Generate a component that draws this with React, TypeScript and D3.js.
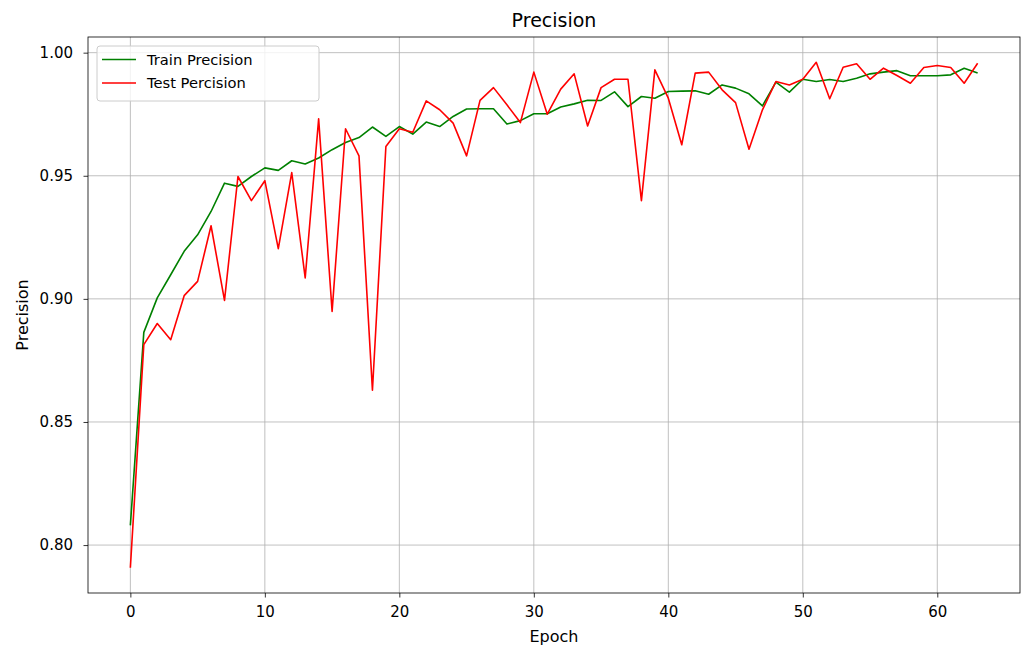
import React, { useEffect, useRef } from "react";
import * as d3 from "d3";

const trainPrecision = [
  0.808, 0.8864, 0.9004, 0.9098, 0.9193, 0.926, 0.9355, 0.947, 0.9457, 0.9497,
  0.9532, 0.9522, 0.9561, 0.9548, 0.9572, 0.9606, 0.9635, 0.9655, 0.9698, 0.966,
  0.970, 0.9669, 0.9718, 0.970, 0.9741, 0.9771, 0.9772, 0.9772, 0.971, 0.9724,
  0.9752, 0.9752, 0.9779, 0.9792, 0.9807, 0.9806, 0.9841, 0.9781, 0.9822, 0.9815,
  0.9842, 0.9844, 0.9845, 0.9831, 0.9869, 0.9856, 0.9833, 0.9784, 0.988, 0.984,
  0.9892, 0.9883, 0.9891, 0.9883, 0.9896, 0.9914, 0.9921, 0.9927, 0.9906, 0.9906,
  0.9906, 0.991, 0.9937, 0.9917,
];

const testPrecision = [
  0.7908, 0.8814, 0.890, 0.8834, 0.9013, 0.9071, 0.9297, 0.8994, 0.9497, 0.9399,
  0.948, 0.9204, 0.9513, 0.9085, 0.9731, 0.8949, 0.9691, 0.9581, 0.8629, 0.9619,
  0.9691, 0.9677, 0.9804, 0.9768, 0.9714, 0.9581, 0.9806, 0.9858, 0.9788, 0.9716,
  0.9921, 0.975, 0.9852, 0.9914, 0.9702, 0.9858, 0.9892, 0.9892, 0.9399, 0.993,
  0.9815, 0.9626, 0.9917, 0.9921, 0.9849, 0.9797, 0.9608, 0.9768, 0.9883, 0.9869,
  0.9892, 0.9961, 0.9813, 0.9941, 0.9955, 0.9892, 0.9937, 0.9907, 0.9876, 0.994,
  0.9948, 0.994, 0.9876, 0.9957,
];

const xTicks = [0, 10, 20, 30, 40, 50, 60];
const yTicks = [0.8, 0.85, 0.9, 0.95, 1.0];

const seriesList = [
  { name: "Train Precision", values: trainPrecision, color: "#008000" },
  { name: "Test Percision", values: testPrecision, color: "#ff0000" },
];

const W = 1026;
const H = 653;
const margin = { top: 37, right: 6, bottom: 60, left: 88 };
const FONT = "DejaVu Sans, sans-serif";

export default function App() {
  const ref = useRef<SVGSVGElement>(null);

  useEffect(() => {
    const svg = d3.select(ref.current);
    svg.selectAll("*").remove();

    const iW = W - margin.left - margin.right;
    const iH = H - margin.top - margin.bottom;

    const n = trainPrecision.length - 1;
    const all = trainPrecision.concat(testPrecision);
    const yMin = d3.min(all)!;
    const yMax = d3.max(all)!;
    const yPad = (yMax - yMin) * 0.05;

    const x = d3.scaleLinear().domain([-n * 0.05, n * 1.05]).range([0, iW]);
    const y = d3.scaleLinear().domain([yMin - yPad, yMax + yPad]).range([iH, 0]);

    const g = svg.append("g").attr("transform", `translate(${margin.left},${margin.top})`);

    // grid
    g.selectAll("line.xgrid")
      .data(xTicks)
      .join("line")
      .attr("class", "xgrid")
      .attr("x1", d => x(d)).attr("x2", d => x(d))
      .attr("y1", 0).attr("y2", iH)
      .attr("stroke", "#b0b0b0").attr("stroke-width", 0.8);

    g.selectAll("line.ygrid")
      .data(yTicks)
      .join("line")
      .attr("class", "ygrid")
      .attr("x1", 0).attr("x2", iW)
      .attr("y1", d => y(d)).attr("y2", d => y(d))
      .attr("stroke", "#b0b0b0").attr("stroke-width", 0.8);

    // lines
    const line = d3.line<number>()
      .x((d, i) => x(i))
      .y(d => y(d));

    seriesList.forEach(s => {
      g.append("path")
        .datum(s.values)
        .attr("d", line)
        .attr("fill", "none")
        .attr("stroke", s.color)
        .attr("stroke-width", 1.6)
        .attr("stroke-linejoin", "round");
    });

    // axes
    const xAxis = g.append("g")
      .attr("transform", `translate(0,${iH})`)
      .call(d3.axisBottom(x).tickValues(xTicks).tickSize(4.5).tickPadding(8.5).tickFormat(d3.format("d")));
    const yAxis = g.append("g")
      .call(d3.axisLeft(y).tickValues(yTicks).tickSize(4.5).tickPadding(10.5).tickFormat(d3.format(".2f")));
    [xAxis, yAxis].forEach(a => {
      a.select(".domain").remove();
      a.selectAll("text").attr("font-family", FONT).attr("font-size", 15).attr("fill", "#000");
      a.selectAll("line").attr("stroke", "#000").attr("stroke-width", 0.8);
    });

    // frame
    g.append("rect")
      .attr("width", iW).attr("height", iH)
      .attr("fill", "none").attr("stroke", "#000").attr("stroke-width", 0.8);

    // legend
    const lg = g.append("g").attr("transform", "translate(9,9)");
    lg.append("rect")
      .attr("width", 222).attr("height", 55).attr("rx", 3)
      .attr("fill", "#fff").attr("fill-opacity", 0.8)
      .attr("stroke", "#cccccc").attr("stroke-width", 1);
    seriesList.forEach((s, i) => {
      const ly = 13.5 + i * 23.5;
      lg.append("line")
        .attr("x1", 5).attr("x2", 39).attr("y1", ly).attr("y2", ly)
        .attr("stroke", s.color).attr("stroke-width", 1.6);
      lg.append("text")
        .attr("x", 50).attr("y", ly).attr("dy", "0.35em")
        .attr("font-family", FONT).attr("font-size", 14.7)
        .text(s.name);
    });

    // labels
    svg.append("text")
      .attr("x", margin.left + iW / 2).attr("y", 27)
      .attr("text-anchor", "middle")
      .attr("font-family", FONT).attr("font-size", 19)
      .text("Precision");
    svg.append("text")
      .attr("x", margin.left + iW / 2).attr("y", 641.5)
      .attr("text-anchor", "middle")
      .attr("font-family", FONT).attr("font-size", 16)
      .text("Epoch");
    svg.append("text")
      .attr("transform", `translate(28,${margin.top + iH / 2}) rotate(-90)`)
      .attr("text-anchor", "middle")
      .attr("font-family", FONT).attr("font-size", 16)
      .text("Precision");
  }, []);

  return <svg ref={ref} width={W} height={H} style={{ display: "block", position: "absolute", left: 0, top: 0, background: "#fff" }} />;
}
